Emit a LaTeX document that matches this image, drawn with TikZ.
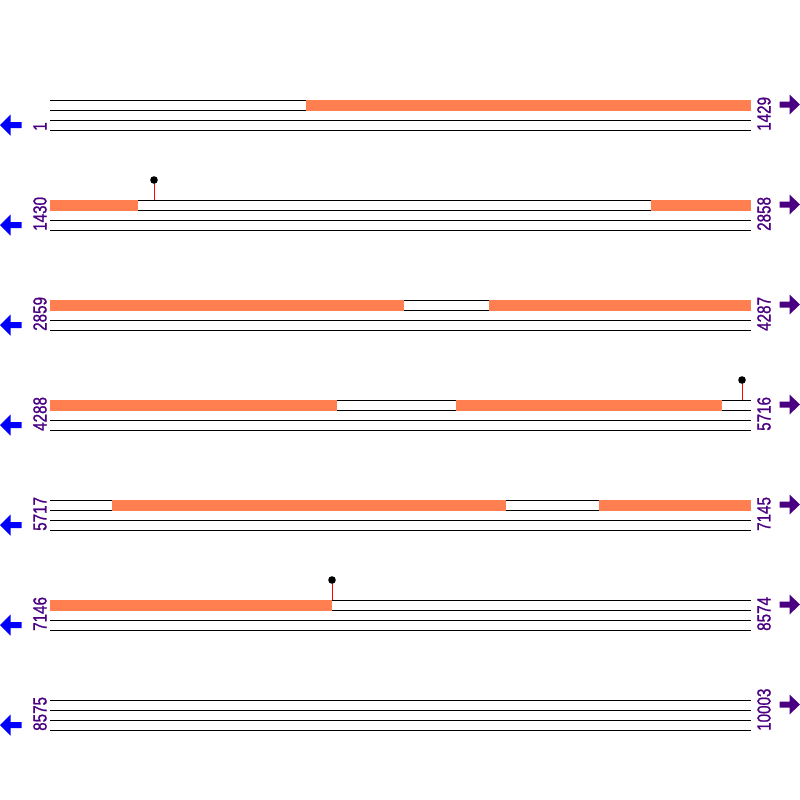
\documentclass[tikz,border=0pt]{standalone}
\usepackage{fontspec}
\usepackage{graphicx}
\setmainfont{Liberation Sans}
\newfontfamily\lblfont[FakeBold=1.2]{Liberation Sans}
\definecolor{coral}{HTML}{FF7F50}
\definecolor{indig}{HTML}{4B0082}
\tikzset{
  track/.style={line width=1pt, draw=black},
  feat/.style={fill=coral, draw=none},
  lbl/.style={text=indig, rotate=90, anchor=west, inner sep=0pt, font=\lblfont\fontsize{19}{19}\selectfont},
  larrow/.style={fill=blue, draw=none},
  rarrow/.style={fill=indig, draw=none},
  stem/.style={draw=red, line width=1pt},
  pinhead/.style={fill=black, draw=none},
}
\newcommand{\lollipop}[2]{%
  \draw[stem] (#1,#2) -- (#1,#2-19);
  \fill[pinhead] (#1,#2-20) circle (3.8);
}
\begin{document}
\begin{tikzpicture}[x=1pt,y=-1pt]
\useasboundingbox (0,0) rectangle (800,800);
\foreach \i/\l/\r in {0/1/1429, 1/1430/2858, 2/2859/4287, 3/4288/5716, 4/5717/7145, 5/7146/8574, 6/8575/10003} {
  \pgfmathsetmacro\yy{100+100*\i}
  \foreach \k in {0,10,20,30} {
    \draw[track] (50,\yy+\k) -- (751,\yy+\k);
  }
  \node[lbl] (L\i) at (40,\yy+31) {\scalebox{0.8}[1]{\l}};
  \node[lbl] (R\i) at (764,\yy+31) {\scalebox{0.8}[1]{\r}};
  \fill[larrow] (0,\yy+25) -- (10.5,\yy+14.5) -- (10.5,\yy+22) -- (21.5,\yy+22) -- (21.5,\yy+28) -- (10.5,\yy+28) -- (10.5,\yy+35.5) -- cycle;
  \fill[rarrow] (800,\yy+4.5) -- (789.5,\yy-5.5) -- (789.5,\yy+1.5) -- (779.5,\yy+1.5) -- (779.5,\yy+7.5) -- (789.5,\yy+7.5) -- (789.5,\yy+14.5) -- cycle;
}
% features
\fill[feat] (306,99.5) rectangle (751,110.5);
\fill[feat] (50,199.5) rectangle (138,210.5);
\fill[feat] (651,199.5) rectangle (751,210.5);
\fill[feat] (50,299.5) rectangle (404,310.5);
\fill[feat] (489,299.5) rectangle (751,310.5);
\fill[feat] (50,399.5) rectangle (337,410.5);
\fill[feat] (456,399.5) rectangle (722,410.5);
\fill[feat] (112,499.5) rectangle (506,510.5);
\fill[feat] (599,499.5) rectangle (751,510.5);
\fill[feat] (50,599.5) rectangle (332,610.5);
% markers
\lollipop{154}{200}
\lollipop{742}{400}
\lollipop{332}{600}
\end{tikzpicture}
\end{document}
